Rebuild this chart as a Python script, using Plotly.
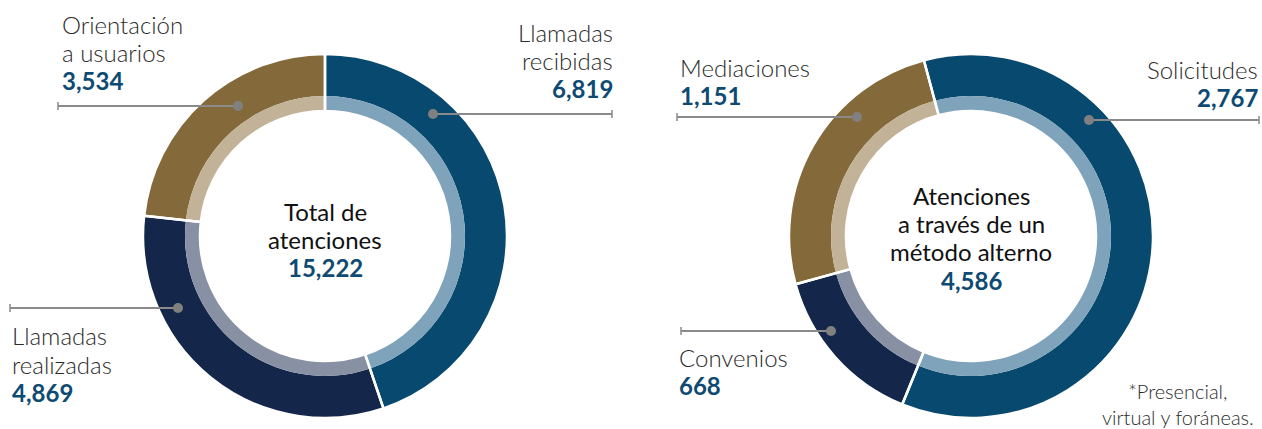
import plotly.graph_objects as go

# Canvas size in pixels
W, H = 1262, 429

# Total de atenciones
left_labels = ["Llamadas recibidas", "Llamadas realizadas", "Orientación a usuarios"]
left_values = [6819, 4869, 3534]

# Atenciones a través de un método alterno
right_labels = ["Solicitudes", "Convenios", "Mediaciones"]
right_values = [2767, 668, 1151]

outer_colors = ["#07496F", "#14274A", "#84693A"]
inner_colors = ["#7FA3BA", "#8891A4", "#C2B398"]

VALUE_COLOR = "#0E4A72"
LABEL_COLOR = "#2B2B2B"
CENTER_COLOR = "#111111"
LEADER_COLOR = "#8A8A8A"
FONT = "Lato, 'Open Sans', sans-serif"

R_OUT, R_MID, R_HOLE = 182, 140, 125


def px(x):
    return x / W


def py(y):
    return 1 - y / H


def domain(cx, cy, r):
    return dict(x=[px(cx - r), px(cx + r)], y=[py(cy + r), py(cy - r)])


def donut(fig, labels, values, cx, cy, rotation):
    common = dict(labels=labels, values=values, sort=False, direction="clockwise",
                  rotation=rotation, textinfo="none", hoverinfo="skip", showlegend=False)
    # dark outer band
    fig.add_trace(go.Pie(domain=domain(cx, cy, R_OUT), hole=R_MID / R_OUT,
                         marker=dict(colors=outer_colors, line=dict(width=0)), **common))
    # light inner band
    fig.add_trace(go.Pie(domain=domain(cx, cy, R_MID), hole=R_HOLE / R_MID,
                         marker=dict(colors=inner_colors, line=dict(width=0)), **common))
    # white separators across both bands
    fig.add_trace(go.Pie(domain=domain(cx, cy, R_OUT), hole=R_HOLE / R_OUT,
                         marker=dict(colors=["rgba(0,0,0,0)"] * len(values),
                                     line=dict(color="white", width=2.5)), **common))


fig = go.Figure()
donut(fig, left_labels, left_values, 325, 236, 0)
donut(fig, right_labels, right_values, 971, 236, -15)

annotations = []


def text(x, y_base, s, size=24, color=LABEL_COLOR, weight=300, anchor="left"):
    annotations.append(dict(
        x=px(x), y=py(y_base - size * 0.33), xref="paper", yref="paper",
        text=s, showarrow=False, xanchor=anchor, yanchor="middle", align=anchor if anchor != "middle" else "center",
        font=dict(family=FONT, size=size, color=color, weight=weight)))


def label_block(x, baselines, lines, value, anchor):
    for yb, s in zip(baselines, lines):
        text(x, yb, s, anchor=anchor)
    text(x, baselines[-1] + 28, f"{value:,}", color=VALUE_COLOR, weight=700, anchor=anchor)


# left donut labels
label_block(60, [32, 60], ["Orientación", "a usuarios"], left_values[2], "left")
label_block(615, [40, 68], ["Llamadas", "recibidas"], left_values[0], "right")
label_block(10, [343, 372], ["Llamadas", "realizadas"], left_values[1], "left")

# right donut labels
label_block(678, [75], ["Mediaciones"], right_values[2], "left")
label_block(1260, [77], ["Solicitudes"], right_values[0], "right")
label_block(677, [365], ["Convenios"], right_values[1], "left")

# centre captions
for yb, s in zip([219, 247], ["Total de", "atenciones"]):
    text(325, yb, s, color=CENTER_COLOR, weight=400, anchor="center")
text(325, 275, f"{sum(left_values):,}", color=VALUE_COLOR, weight=700, anchor="center")

for yb, s in zip([203, 231, 259], ["Atenciones", "a través de un", "método alterno"]):
    text(971, yb, s, color=CENTER_COLOR, weight=400, anchor="center")
text(971, 288, f"{sum(right_values):,}", color=VALUE_COLOR, weight=700, anchor="center")

# footnote (two lines in one block)
text(1178, 411, "*Presencial,<br>virtual y foráneas.", size=20, anchor="center")

# leader lines with end ticks and dots
leaders = [
    (58, 238, 106, 58),
    (433, 612, 114, 612),
    (10, 178, 308, 10),
    (677, 857, 117, 677),
    (1089, 1259, 120, 1259),
    (681, 831, 331, 681),
]
dots = [(238, 106), (433, 114), (178, 308), (857, 117), (1089, 120), (831, 331)]

shapes = []
for x0, x1, y, xt in leaders:
    shapes.append(dict(type="line", xref="paper", yref="paper",
                       x0=px(x0), x1=px(x1), y0=py(y), y1=py(y),
                       line=dict(color=LEADER_COLOR, width=2)))
    shapes.append(dict(type="line", xref="paper", yref="paper",
                       x0=px(xt), x1=px(xt), y0=py(y - 4), y1=py(y + 4),
                       line=dict(color=LEADER_COLOR, width=1.5)))
for x, y in dots:
    r = 5
    shapes.append(dict(type="circle", xref="paper", yref="paper",
                       x0=px(x - r), x1=px(x + r), y0=py(y + r), y1=py(y - r),
                       fillcolor="#808080", line=dict(width=0)))

fig.update_layout(
    width=W, height=H,
    margin=dict(l=0, r=0, t=0, b=0),
    paper_bgcolor="white", plot_bgcolor="white",
    annotations=annotations, shapes=shapes,
)

fig.write_html("out.html")
